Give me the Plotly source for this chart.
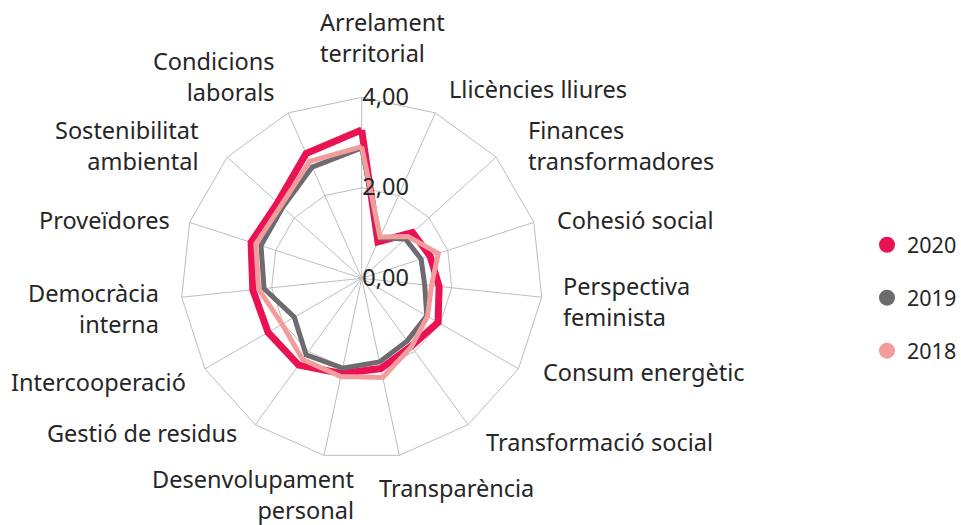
import plotly.graph_objects as go

categories = [
    "Arrelament territorial",
    "Llicències lliures",
    "Finances transformadores",
    "Cohesió social",
    "Perspectiva feminista",
    "Consum energètic",
    "Transformació social",
    "Transparència",
    "Desenvolupament personal",
    "Gestió de residus",
    "Intercooperació",
    "Democràcia interna",
    "Proveïdores",
    "Sostenibilitat ambiental",
    "Condicions laborals",
]
# how each category label wraps in the picture
category_labels = [
    "Arrelament<br>territorial",
    "Llicències lliures",
    "Finances<br>transformadores",
    "Cohesió social",
    "Perspectiva<br>feminista",
    "Consum energètic",
    "Transformació social",
    "Transparència",
    "Desenvolupament<br>personal",
    "Gestió de residus",
    "Intercooperació",
    "Democràcia<br>interna",
    "Proveïdores",
    "Sostenibilitat<br>ambiental",
    "Condicions<br>laborals",
]

values_2020 = [3.28, 0.88, 1.51, 1.59, 1.72, 1.95, 1.86, 2.04, 2.15, 2.37, 2.39, 2.42, 2.57, 2.50, 3.02]
values_2019 = [2.88, 0.98, 1.30, 1.38, 1.40, 1.66, 1.71, 1.89, 2.03, 2.09, 1.72, 2.17, 2.34, 2.35, 2.69]
values_2018 = [2.91, 1.00, 1.38, 1.78, 1.55, 1.68, 1.87, 2.24, 2.22, 2.22, 2.03, 2.29, 2.46, 2.40, 2.83]

series_names = ["2020", "2019", "2018"]
series_values = [values_2020, values_2019, values_2018]

radial_tickvals = [0, 2, 4]
radial_ticktext = ["0,00", "2,00", "4,00"]

# ---- styling / layout (not data) ----
series_colors = ["#EB1254", "#6F6A70", "#F39C9C"]
series_widths = [7, 5, 5]

FONT = "Noto Sans"
TXT = "#262626"
GRID = "#BDBDBD"
W, H = 961, 525
cx, cy, R = 361.7, 278.3, 181.0

# label placement in pixels (anchor x, middle y, side) around the web
label_place = [
    (318, 37, "left"),
    (447, 89, "left"),
    (526, 145, "left"),
    (555, 220, "left"),
    (561, 301, "left"),
    (541, 372, "left"),
    (484, 442, "left"),
    (377, 488, "left"),
    (356, 494, "right"),
    (239, 433, "right"),
    (188, 382, "right"),
    (161, 308, "right"),
    (172, 220, "right"),
    (201, 145, "right"),
    (276, 76, "right"),
]

fig = go.Figure()

for name, col, w, vals in zip(series_names, series_colors, series_widths, series_values):
    fig.add_trace(go.Scatterpolar(
        r=vals + vals[:1],
        theta=categories + categories[:1],
        mode="lines",
        line=dict(color=col, width=w),
        name=name,
        showlegend=False,
        hoverinfo="skip",
    ))

for name, col in zip(series_names, series_colors):
    fig.add_trace(go.Scatterpolar(
        r=[None],
        theta=[categories[0]],
        mode="markers",
        marker=dict(color=col, size=20, symbol="circle"),
        name=name,
        legendgroup=name,
        showlegend=True,
    ))

annotations = []
for text, (px, py, side) in zip(category_labels, label_place):
    annotations.append(dict(
        text=text,
        xref="paper", yref="paper",
        x=px / W, y=1 - py / H,
        xanchor=side, yanchor="middle", align=side,
        showarrow=False,
        font=dict(family=FONT, size=23.5, color=TXT),
    ))

fig.update_layout(
    width=W,
    height=H,
    margin=dict(l=0, r=0, t=0, b=0, autoexpand=False),
    paper_bgcolor="white",
    plot_bgcolor="white",
    font=dict(family=FONT, size=23.5, color=TXT),
    annotations=annotations,
    polar=dict(
        domain=dict(
            x=[(cx - R) / W, (cx + R) / W],
            y=[(H - cy - R) / H, (H - cy + R) / H],
        ),
        bgcolor="white",
        gridshape="linear",
        angularaxis=dict(
            direction="clockwise",
            rotation=90,
            showline=True,
            linecolor=GRID,
            linewidth=1,
            showgrid=True,
            gridcolor=GRID,
            gridwidth=1,
            ticks="",
            showticklabels=False,
        ),
        radialaxis=dict(
            range=[0, 4],
            angle=90,
            tickangle=90,
            tickvals=radial_tickvals,
            ticktext=radial_ticktext,
            showline=False,
            showgrid=True,
            gridcolor=GRID,
            gridwidth=1,
            ticks="",
            side="clockwise",
            tickfont=dict(family=FONT, size=23.5, color=TXT),
        ),
    ),
    legend=dict(
        x=867 / W,
        y=0.4328,
        xanchor="left",
        yanchor="middle",
        font=dict(family=FONT, size=21.5, color=TXT),
        tracegroupgap=22,
        itemsizing="trace",
        bgcolor="rgba(0,0,0,0)",
    ),
)

# the page's default 8px body margin would shift the 961x525 figure; remove it
fig.write_html(
    "out.html",
    config={"displayModeBar": False},
    post_script="document.body.style.margin='0';document.body.style.overflow='hidden';",
)
